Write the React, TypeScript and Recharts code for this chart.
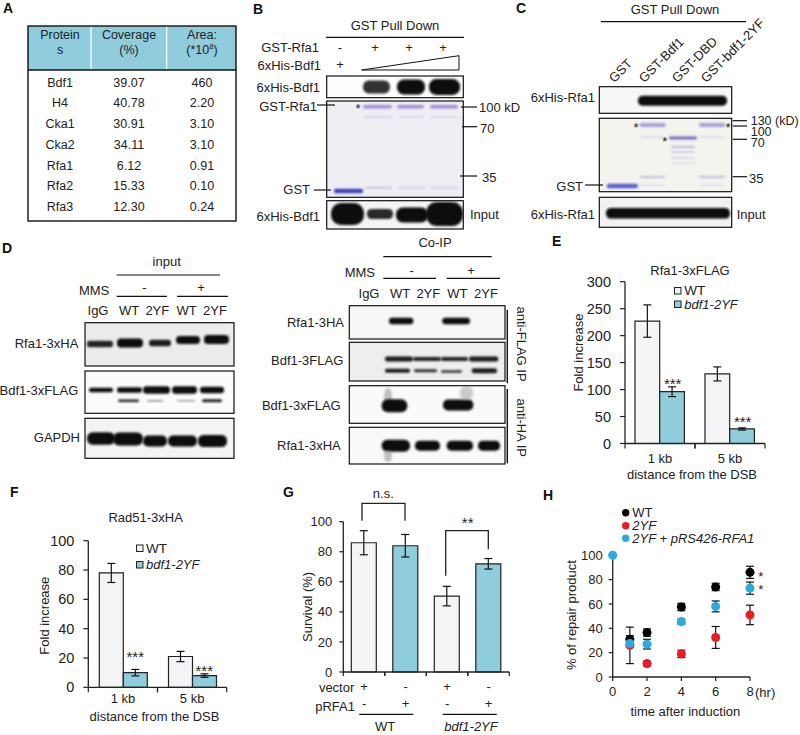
import React from 'react';
import { BarChart, Bar, Cell, XAxis, YAxis, ErrorBar, ScatterChart, Scatter } from 'recharts';

const FONT = '"Liberation Sans", Arial, sans-serif';
const WHITE_BAR = '#f3f4f6';
const BLUE_BAR = '#8fccdc';
const INK = '#222';

// panel A
const proteins = ['Bdf1', 'H4', 'Cka1', 'Cka2', 'Rfa1', 'Rfa2', 'Rfa3'];
const coverage = ['39.07', '40.78', '30.91', '34.11', '6.12', '15.33', '12.30'];
const area = ['460', '2.20', '3.10', '3.10', '0.91', '0.10', '0.24'];

// panel E
const distancesE = ['1 kb', '5 kb'];
const wtE = [227, 129];
const wtErrE = [30, 13];
const mutE = [96, 27];
const mutErrE = [9, 2];
const tableE = distancesE.map((d, i) => ({ d, wt: wtE[i], wtErr: wtErrE[i], mut: mutE[i], mutErr: mutErrE[i] }));

// panel F
const distancesF = ['1 kb', '5 kb'];
const wtF = [78, 21];
const wtErrF = [6.5, 3.5];
const mutF = [10, 8];
const mutErrF = [2.2, 1.2];
const tableF = distancesF.map((d, i) => ({ d, wt: wtF[i], wtErr: wtErrF[i], mut: mutF[i], mutErr: mutErrF[i] }));

// panel G
const vectorSigns = ['+', '-', '+', '-'];
const pRfa1Signs = ['-', '+', '-', '+'];
const survival = [86, 84, 50.5, 72];
const survivalErr = [8, 7.5, 6.5, 3.5];
const tableG = survival.map((v, i) => ({ id: i, v, err: survivalErr[i] }));

// panel H
const hoursWt = [1, 2, 4, 6, 8];
const repairWt = [31, 36.5, 57.5, 74, 86];
const repairWtErr = [3, 3, 3, 3, 5];
const hours2yf = [1, 2, 4, 6, 8];
const repair2yf = [26, 11, 19, 32.5, 51];
const repair2yfErr = [15, 2, 3, 9, 8];
const hoursRescue = [0, 1, 2, 4, 6, 8];
const repairRescue = [100, 27.5, 27, 45.5, 58, 73];
const repairRescueErr = [0, 3, 4, 2, 4.5, 5];
const toPoints = (xs: number[], ys: number[], es: number[]) => xs.map((x, i) => ({ x, y: ys[i], err: es[i] }));

type Band = [number, number, number, number, string?, number?];

function T({ x, y, a = 'middle', s = 13, it, b, children, r, fill = INK }: any) {
  return (
    <text
      x={x}
      y={y}
      textAnchor={a}
      dominantBaseline="central"
      fontSize={s}
      fontStyle={it ? 'italic' : undefined}
      fontWeight={b ? 700 : undefined}
      fill={fill}
      transform={r ? `rotate(${r} ${x} ${y})` : undefined}
    >
      {children}
    </text>
  );
}

function L({ x1, y1, x2, y2, w = 1.2 }: any) {
  return <line x1={x1} y1={y1} x2={x2} y2={y2} stroke="#111" strokeWidth={w} />;
}

const Stars = ({ x, y, n = 3 }: any) => <T x={x} y={y + 4} s={15}>{'*'.repeat(n)}</T>;

function Blot({ id, x, y, w, h, bg = '#fafafa', bands }: { id: string; x: number; y: number; w: number; h: number; bg?: string; bands: Band[] }) {
  return (
    <g>
      <clipPath id={id}><rect x={x} y={y} width={w} height={h} /></clipPath>
      <rect x={x} y={y} width={w} height={h} fill={bg} />
      <g clipPath={`url(#${id})`}>
        {bands.map(([x0, x1, cy, bh, color = '#0a0a0a', op = 1], i) => (
          <rect key={i} x={x0} y={cy - bh / 2} width={x1 - x0} height={bh} rx={bh / 2.2} fill={color} opacity={op} filter="url(#soft)" />
        ))}
      </g>
      <rect x={x} y={y} width={w} height={h} fill="none" stroke="#111" strokeWidth={1.2} />
    </g>
  );
}

// ticks sit on category edges in these charts, so the tick draws them itself
const edgeTick = (step: number, labelDy: number) => (p: any) => (
  <g>
    <line x1={p.x - step / 2} y1={p.y} x2={p.x - step / 2} y2={p.y + 5} stroke={INK} strokeWidth={1.2} />
    <line x1={p.x + step / 2} y1={p.y} x2={p.x + step / 2} y2={p.y + 5} stroke={INK} strokeWidth={1.2} />
    <text x={p.x} y={p.y + labelDy} textAnchor="middle" dominantBaseline="central" fontSize={13} fill={INK}>{p.payload.value}</text>
  </g>
);

const signTick = (step: number) => (p: any) => {
  const i = p.payload.value;
  return (
    <g>
      <line x1={p.x - step / 2} y1={p.y} x2={p.x - step / 2} y2={p.y + 4} stroke={INK} strokeWidth={1.2} />
      <line x1={p.x + step / 2} y1={p.y} x2={p.x + step / 2} y2={p.y + 4} stroke={INK} strokeWidth={1.2} />
      <text x={p.x} y={p.y + 14} textAnchor="middle" dominantBaseline="central" fontSize={13} fill={INK}>{vectorSigns[i]}</text>
      <text x={p.x} y={p.y + 31} textAnchor="middle" dominantBaseline="central" fontSize={13} fill={INK}>{pRfa1Signs[i]}</text>
    </g>
  );
};

const axisLine = { stroke: INK, strokeWidth: 1.3 };
const errProps = { stroke: '#111', strokeWidth: 1.2, width: 4, isAnimationActive: false };

function FoldChart({ data, left, top, h, yw, right, mt, domainMax, ticks, label, labelDx, labelDy, xDx, xDy, barSize, step, fs, tickDy }: any) {
  return (
    <div style={{ position: 'absolute', left, top }}>
      <BarChart width={210} height={h} data={data} margin={{ top: mt, right, bottom: 0, left: 0 }} barGap={0} barSize={barSize}>
        <XAxis
          dataKey="d"
          height={45}
          axisLine={axisLine}
          tickLine={false}
          tickSize={0}
          tickMargin={0}
          interval={0}
          tick={edgeTick(step, tickDy)}
          label={{ value: 'distance from the DSB', position: 'center', dx: xDx, dy: xDy, fontSize: 13, fill: INK }}
        />
        <YAxis
          width={yw}
          domain={[0, domainMax]}
          ticks={ticks}
          interval={0}
          axisLine={axisLine}
          tickLine={{ stroke: INK, strokeWidth: 1.2 }}
          tickSize={5}
          tickMargin={9}
          tick={{ fontSize: fs, fill: INK }}
          label={{ value: label, angle: -90, position: 'center', dx: labelDx, dy: labelDy, fontSize: 13, fill: INK }}
        />
        <Bar dataKey="wt" fill={WHITE_BAR} stroke={INK} strokeWidth={1.2} isAnimationActive={false}>
          <ErrorBar dataKey="wtErr" {...errProps} />
        </Bar>
        <Bar dataKey="mut" fill={BLUE_BAR} stroke={INK} strokeWidth={1.2} isAnimationActive={false}>
          <ErrorBar dataKey="mutErr" {...errProps} />
        </Bar>
      </BarChart>
    </div>
  );
}

function Annotations() {
  return (
    <svg width={800} height={735} style={{ position: 'absolute', left: 0, top: 0, fontFamily: FONT }}>
      <defs>
        <filter id="soft" x="-20%" y="-60%" width="140%" height="220%"><feGaussianBlur stdDeviation="0.9" /></filter>
      </defs>

      {/* panel letters */}
      <T x={3} y={8} a="start" s={14} b fill="#111">A</T>
      <T x={253} y={9} a="start" s={14} b fill="#111">B</T>
      <T x={516} y={8} a="start" s={14} b fill="#111">C</T>
      <T x={2} y={248} a="start" s={14} b fill="#111">D</T>
      <T x={552} y={241} a="start" s={14} b fill="#111">E</T>
      <T x={10} y={492} a="start" s={14} b fill="#111">F</T>
      <T x={283} y={492} a="start" s={14} b fill="#111">G</T>
      <T x={543} y={495} a="start" s={14} b fill="#111">H</T>

      {/* A */}
      <rect x={28} y={26} width={208} height={195} fill="#fff" />
      <rect x={28} y={26} width={208} height={44} fill={BLUE_BAR} />
      <line x1={91} y1={26} x2={91} y2={69} stroke="#fff" strokeWidth={1.2} />
      <line x1={166.7} y1={26} x2={166.7} y2={69} stroke="#fff" strokeWidth={1.2} />
      <rect x={28} y={26} width={208} height={195} fill="none" stroke="#111" strokeWidth={1.4} />
      <L x1={28} y1={70} x2={236} y2={70} w={1.4} />
      <T x={60} y={34.5} s={12.5}>Protein</T>
      <T x={60} y={49.7} s={12.5}>s</T>
      <T x={129} y={34.5} s={12.5}>Coverage</T>
      <T x={129} y={49.7} s={12.5}>(%)</T>
      <T x={202} y={34.5} s={12.5}>Area:</T>
      <T x={202} y={49.7} s={12.5}>(*10<tspan fontSize={8} dy={-4}>8</tspan><tspan dy={4}>)</tspan></T>
      {proteins.map((p, i) => {
        const y = 82.7 + i * 20.7;
        return (
          <g key={p}>
            <T x={60} y={y} s={12.5}>{p}</T>
            <T x={129} y={y} s={12.5}>{coverage[i]}</T>
            <T x={202} y={y} s={12.5}>{area[i]}</T>
          </g>
        );
      })}

      {/* B */}
      <T x={395} y={25.7}>GST Pull Down</T>
      <L x1={326} y1={37.3} x2={464} y2={37.3} />
      <T x={319} y={47.7} a="end">GST-Rfa1</T>
      <T x={321} y={65.7} a="end">6xHis-Bdf1</T>
      <T x={340} y={47}>-</T>
      <T x={375} y={47}>+</T>
      <T x={409} y={47}>+</T>
      <T x={443} y={47}>+</T>
      <T x={340} y={64}>+</T>
      <polygon points="361.7,70 459,55.7 459,70" fill="#fff" stroke="#111" strokeWidth={1} />
      <T x={320} y={87} a="end">6xHis-Bdf1</T>
      <Blot id="b1" x={326.7} y={76} w={136.6} h={21.7} bg="#fdfdfd" bands={[
        [363, 390, 87, 13, '#333'],
        [397, 425, 87, 15],
        [429, 460, 87, 16],
      ]} />
      <Blot id="b2" x={326.7} y={101} w={136.6} h={96.3} bg="#eeeef3" bands={[
        [334, 363, 191, 4.5, '#3f3fb8'],
        [363, 392, 106.7, 3.5, '#a58bd0'],
        [397, 424, 106.7, 3.5, '#a58bd0'],
        [430, 458, 106.7, 3.5, '#a58bd0'],
        [364, 392, 116.7, 1.5, '#cfc8e6'],
        [398, 424, 116.7, 1.5, '#d6d0ea'],
        [430, 458, 116.7, 1.5, '#d6d0ea'],
        [365, 392, 187.7, 2, '#c8c4e4'],
        [398, 425, 187.7, 2, '#d2cee9'],
        [430, 458, 187.7, 2, '#d2cee9'],
      ]} />
      <T x={317} y={106} a="end">GST-Rfa1</T>
      <L x1={317} y1={105} x2={335} y2={105} />
      <T x={358} y={108} s={13}>*</T>
      <T x={310} y={189.5} a="end">GST</T>
      <L x1={314} y1={190} x2={331} y2={190} />
      <L x1={461} y1={107} x2={477} y2={107} />
      <T x={479} y={107} a="start">100 kD</T>
      <L x1={462} y1={126.7} x2={477} y2={126.7} />
      <T x={480} y={128} a="start">70</T>
      <L x1={460} y1={176} x2={477} y2={176} />
      <T x={482} y={177} a="start">35</T>
      <Blot id="b3" x={326.7} y={200.7} w={136.6} h={28.3} bg="#f4f4f4" bands={[
        [331, 364, 214, 22],
        [367, 393, 214, 10, '#2a2a2a'],
        [396, 428, 215, 15],
        [426, 463, 214, 24],
      ]} />
      <T x={320} y={216.7} a="end">6xHis-Bdf1</T>
      <T x={470} y={214} a="start">Input</T>

      {/* C */}
      <T x={675} y={9}>GST Pull Down</T>
      <L x1={601} y1={21.7} x2={746} y2={21.7} />
      <T x={611} y={80} a="start" r={-45}>GST</T>
      <T x={641} y={80} a="start" r={-45}>GST-Bdf1</T>
      <T x={674} y={80} a="start" r={-45}>GST-DBD</T>
      <T x={703} y={80} a="start" r={-45}>GST-bdf1-2YF</T>
      <T x={595} y={97.3} a="end">6xHis-Rfa1</T>
      <Blot id="c1" x={599.3} y={86.7} w={132.4} h={26.6} bg="#f7f7f7" bands={[[638, 727, 100.7, 10]]} />
      <Blot id="c2" x={599.3} y={118.3} w={132.4} h={73.4} bg="#f4f3ee" bands={[
        [606.7, 638, 186, 4.5, '#5d5dd0'],
        [639.5, 665.7, 125, 4, '#a79edc'],
        [640, 665, 137, 1.5, '#d5d2ec'],
        [640, 665, 177, 2, '#c2bde6'],
        [640, 665, 185, 1.5, '#dbd9ee'],
        [669, 696.7, 138, 3, '#7668c0'],
        [671, 695, 147, 2, '#bbb5e2'],
        [671, 695, 152, 1.5, '#c6c1e6'],
        [671, 695, 158, 1.5, '#cfcbea'],
        [671, 695, 163, 1.5, '#d6d3ec'],
        [699, 725, 125, 4, '#a79edc'],
        [700, 724, 137, 1.5, '#d5d2ec'],
        [699, 725, 177, 2, '#c2bde6'],
        [700, 724, 185, 1.5, '#dbd9ee'],
      ]} />
      <T x={636} y={127} s={13}>*</T>
      <T x={664.7} y={141} s={13}>*</T>
      <T x={728} y={127} s={13}>*</T>
      <T x={583} y={186} a="end">GST</T>
      <L x1={585} y1={185} x2={603} y2={185} />
      <L x1={732.7} y1={120.7} x2={747} y2={120.7} />
      <L x1={732.7} y1={126} x2={747} y2={126} />
      <L x1={732.7} y1={139.3} x2={747} y2={139.3} />
      <L x1={732.7} y1={176.7} x2={747} y2={176.7} />
      <T x={750.7} y={120.7} a="start" s={12.5}>130 (kD)</T>
      <T x={750.7} y={131.7} a="start" s={12.5}>100</T>
      <T x={750.7} y={143} a="start" s={12.5}>70</T>
      <T x={749} y={178} a="start">35</T>
      <Blot id="c3" x={599.3} y={197.3} w={132.4} h={30} bg="#f2f2f2" bands={[[606, 730, 213.3, 10.5]]} />
      <T x={595} y={214} a="end">6xHis-Rfa1</T>
      <T x={736.7} y={214} a="start">Input</T>

      {/* D input */}
      <T x={166.7} y={261.7}>input</T>
      <L x1={116.7} y1={275} x2={220} y2={275} />
      <T x={109.3} y={290.7} a="end">MMS</T>
      <T x={144.3} y={287}>-</T>
      <T x={201} y={287}>+</T>
      <L x1={116.7} y1={296.3} x2={167} y2={296.3} />
      <L x1={177} y1={296.3} x2={228} y2={296.3} />
      <T x={98} y={310.7}>IgG</T>
      <T x={129} y={310.7}>WT</T>
      <T x={157.3} y={310.7}>2YF</T>
      <T x={186.7} y={310.7}>WT</T>
      <T x={215} y={310.7}>2YF</T>
      <T x={78.3} y={343.7} a="end">Rfa1-3xHA</T>
      <Blot id="d1" x={85} y={322.7} w={149} h={43.3} bg="#ececec" bands={[
        [87, 113, 344, 6.5, '#222'],
        [117, 143, 343, 9],
        [149, 171, 343, 6.5, '#1a1a1a'],
        [176, 200, 340, 8],
        [204, 229, 339.6, 9],
      ]} />
      <T x={78.3} y={390.7} a="end">Bdf1-3xFLAG</T>
      <Blot id="d2" x={85} y={371} w={149} h={42.3} bg="#fbfbfb" bands={[
        [89, 113, 390, 4.5, '#111'],
        [117, 142, 390, 5.5],
        [143, 170, 390, 7.5],
        [172, 197, 390, 7.5],
        [200, 224, 390, 6.5],
        [118, 139, 400.7, 2.5, '#222'],
        [147, 163, 400.7, 1.5, '#888'],
        [177, 195, 400.7, 1.5, '#999'],
        [202, 222, 400.7, 3, '#222'],
      ]} />
      <T x={80} y={437.7} a="end">GAPDH</T>
      <Blot id="d3" x={85} y={418.3} w={149} h={40} bg="#f4f4f4" bands={[
        [87, 115, 438.5, 12.5],
        [113, 143, 439, 13],
        [143, 167, 441, 11],
        [168, 197, 441, 11],
        [198, 227, 441, 12],
      ]} />

      {/* D co-IP */}
      <T x={435} y={242.5}>Co-IP</T>
      <L x1={383.3} y1={256.7} x2={491.7} y2={256.7} />
      <T x={375} y={272} a="end">MMS</T>
      <T x={411.7} y={270}>-</T>
      <T x={471} y={270}>+</T>
      <L x1={383.3} y1={278.3} x2={436} y2={278.3} />
      <L x1={446.7} y1={278.3} x2={500} y2={278.3} />
      <T x={369} y={293.3}>IgG</T>
      <T x={400} y={293.3}>WT</T>
      <T x={428.3} y={293.3}>2YF</T>
      <T x={457.3} y={293.3}>WT</T>
      <T x={486} y={293.3}>2YF</T>
      <T x={344} y={322.7} a="end">Rfa1-3HA</T>
      <Blot id="e1" x={349.3} y={305.7} w={155.7} h={33.3} bg="#f6f6f4" bands={[
        [389, 413.3, 321, 6.5],
        [442.3, 470, 321, 6.5],
      ]} />
      <T x={343.3} y={360} a="end">Bdf1-3FLAG</T>
      <Blot id="e2" x={349.3} y={342.3} w={155.7} h={38.7} bg="#eeeeee" bands={[
        [385, 413, 359, 5, '#1a1a1a'],
        [413, 441, 359, 4, '#222'],
        [441, 468, 359, 4, '#222'],
        [469, 498.3, 359, 5, '#1a1a1a'],
        [385, 410, 370.7, 4, '#1a1a1a'],
        [414, 437, 370.7, 3, '#333'],
        [441, 462, 371.5, 2.5, '#333'],
        [471.7, 497, 370.7, 5, '#1a1a1a'],
      ]} />
      <T x={340.7} y={405} a="end">Bdf1-3xFLAG</T>
      <Blot id="e3" x={349.3} y={385.7} w={155.7} h={37.6} bg="#fafafa" bands={[
        [384, 392, 397, 18, '#999', 0.6],
        [381.7, 407.3, 405.7, 13],
        [443, 473.3, 405, 11],
        [460, 473, 393, 14, '#aaa', 0.6],
      ]} />
      <T x={340.7} y={445} a="end">Rfa1-3xHA</T>
      <Blot id="e4" x={349.3} y={427.3} w={155.7} h={36.7} bg="#f9f9f9" bands={[
        [381.7, 410, 445.7, 12, '#111'],
        [415, 440, 445.7, 10, '#111'],
        [446.7, 473, 445.7, 10, '#111'],
        [478, 500, 445.7, 10, '#111'],
        [384, 392, 456, 12, '#999', 0.6],
      ]} />
      <L x1={507.3} y1={310} x2={507.3} y2={383.3} w={1.4} />
      <L x1={507.3} y1={389} x2={507.3} y2={463.3} w={1.4} />
      <T x={521} y={344} r={90}>anti-FLAG IP</T>
      <T x={521} y={427.7} r={90}>anti-HA IP</T>

      {/* E */}
      <T x={690} y={270}>Rfa1-3xFLAG</T>
      <rect x={674.5} y={287.5} width={6.5} height={6.5} fill={WHITE_BAR} stroke={INK} strokeWidth={1} />
      <T x={684.3} y={290.7} a="start" s={13.5}>WT</T>
      <rect x={674.5} y={301} width={6.5} height={6.5} fill={BLUE_BAR} stroke={INK} strokeWidth={1} />
      <T x={684.3} y={304} a="start" it s={13}>bdf1-2YF</T>
      <Stars x={672.7} y={379} />
      <Stars x={742.7} y={417.7} />

      {/* F */}
      <T x={145.7} y={517.3}>Rad51-3xHA</T>
      <rect x={136.5} y={545} width={6.5} height={6.5} fill={WHITE_BAR} stroke={INK} strokeWidth={1} />
      <T x={146} y={548.3} a="start" s={13.5}>WT</T>
      <rect x={136.5} y={561.5} width={6.5} height={6.5} fill={BLUE_BAR} stroke={INK} strokeWidth={1} />
      <T x={146} y={564.7} a="start" it s={13}>bdf1-2YF</T>
      <Stars x={135.3} y={652} />
      <Stars x={204.3} y={666} />

      {/* G */}
      <T x={383.3} y={493}>n.s.</T>
      <path d="M362 520.7V503.3H405V520.7" fill="none" stroke="#222" strokeWidth={1.3} />
      <Stars x={467.7} y={518} n={2} />
      <path d="M445.7 575.7V530.7H488.3V549.3" fill="none" stroke="#222" strokeWidth={1.3} />
      <T x={354.3} y={687} a="end">vector</T>
      <T x={355} y={706} a="end">pRFA1</T>
      <L x1={359.3} y1={714.3} x2={413.3} y2={714.3} />
      <L x1={442.7} y1={714.3} x2={496.7} y2={714.3} />
      <T x={385} y={726}>WT</T>
      <T x={471} y={726} it>bdf1-2YF</T>

      {/* H */}
      <circle cx={625.7} cy={512.7} r={3.7} fill="#000" />
      <circle cx={625.7} cy={525.7} r={3.7} fill="#ed1c24" />
      <circle cx={625.7} cy={538.3} r={3.7} fill="#29abe2" />
      <T x={632.3} y={512.7} a="start">WT</T>
      <T x={632.3} y={525.7} a="start" it>2YF</T>
      <T x={632.3} y={538.3} a="start" it>{'2YF + pRS426-RFA1'}</T>
      <T x={760.7} y={576} s={13}>*</T>
      <T x={760.7} y={589} s={13}>*</T>
      <T x={755} y={692.7} a="start">(hr)</T>
    </svg>
  );
}

export default function App() {
  return (
    <div style={{ position: 'absolute', left: 0, top: 0, width: 800, height: 735, background: '#fff', fontFamily: FONT, overflow: 'hidden' }}>
      <FoldChart
        data={tableE}
        left={565}
        top={270}
        h={218.5}
        yw={60}
        right={10}
        mt={11.7}
        domainMax={300}
        ticks={[0, 50, 100, 150, 200, 250, 300]}
        label="Fold increase"
        labelDx={-17}
        labelDy={-10}
        xDx={-3}
        xDy={8}
        barSize={24.7}
        step={70}
        fs={14.5}
        tickDy={14.5}
      />
      <FoldChart
        data={tableF}
        left={28}
        top={530}
        h={202.3}
        yw={60.3}
        right={11.3}
        mt={10.7}
        domainMax={100}
        ticks={[0, 20, 40, 60, 80, 100]}
        label="Fold increase"
        labelDx={-14}
        labelDy={1.7}
        xDx={-3}
        xDy={7}
        barSize={24}
        step={69.2}
        fs={14.5}
        tickDy={11}
      />
      <div style={{ position: 'absolute', left: 295, top: 510 }}>
        <BarChart width={225} height={204} data={tableG} margin={{ top: 11.7, right: 10.7, bottom: 0, left: 0 }} barSize={25}>
          <XAxis dataKey="id" height={42} axisLine={axisLine} tickLine={false} tickSize={0} tickMargin={0} interval={0} tick={signTick(41.5)} />
          <YAxis
            width={48.3}
            domain={[0, 100]}
            ticks={[0, 20, 40, 60, 80, 100]}
            interval={0}
            axisLine={axisLine}
            tickLine={{ stroke: INK, strokeWidth: 1.2 }}
            tickSize={4}
            tickMargin={7}
            tick={{ fontSize: 13, fill: INK }}
            label={{ value: 'Survival (%)', angle: -90, position: 'center', dx: -12, dy: 10, fontSize: 13, fill: INK }}
          />
          <Bar dataKey="v" stroke={INK} strokeWidth={1.2} isAnimationActive={false}>
            {tableG.map((row) => <Cell key={row.id} fill={row.id % 2 ? BLUE_BAR : WHITE_BAR} />)}
            <ErrorBar dataKey="err" {...errProps} />
          </Bar>
        </BarChart>
      </div>
      <div style={{ position: 'absolute', left: 560, top: 545 }}>
        <ScatterChart width={220} height={172} margin={{ top: 10.3, right: 30, bottom: 0, left: 0 }}>
          <XAxis
            type="number"
            dataKey="x"
            domain={[0, 8]}
            ticks={[0, 2, 4, 6, 8]}
            interval={0}
            height={40}
            axisLine={axisLine}
            tickLine={{ stroke: INK, strokeWidth: 1.2 }}
            tickSize={4}
            tickMargin={6}
            tick={{ fontSize: 13, fill: INK }}
            label={{ value: 'time after induction', position: 'center', dx: 4, dy: 14, fontSize: 13, fill: INK }}
          />
          <YAxis
            type="number"
            dataKey="y"
            width={52.7}
            domain={[0, 100]}
            ticks={[0, 20, 40, 60, 80, 100]}
            interval={0}
            axisLine={axisLine}
            tickLine={{ stroke: INK, strokeWidth: 1.2 }}
            tickSize={4}
            tickMargin={6}
            tick={{ fontSize: 13, fill: INK }}
            label={{ value: '% of repair product', angle: -90, position: 'center', dx: -15, dy: -1, fontSize: 13, fill: INK }}
          />
          <Scatter data={toPoints(hoursWt, repairWt, repairWtErr)} fill="#000" isAnimationActive={false}>
            <ErrorBar dataKey="err" direction="y" stroke="#111" strokeWidth={1.2} width={4} isAnimationActive={false} />
          </Scatter>
          <Scatter data={toPoints(hours2yf, repair2yf, repair2yfErr)} fill="#ed1c24" isAnimationActive={false}>
            <ErrorBar dataKey="err" direction="y" stroke="#111" strokeWidth={1.2} width={4} isAnimationActive={false} />
          </Scatter>
          <Scatter data={toPoints(hoursRescue, repairRescue, repairRescueErr)} fill="#29abe2" isAnimationActive={false}>
            <ErrorBar dataKey="err" direction="y" stroke="#111" strokeWidth={1.2} width={4} isAnimationActive={false} />
          </Scatter>
        </ScatterChart>
      </div>
      <Annotations />
    </div>
  );
}
